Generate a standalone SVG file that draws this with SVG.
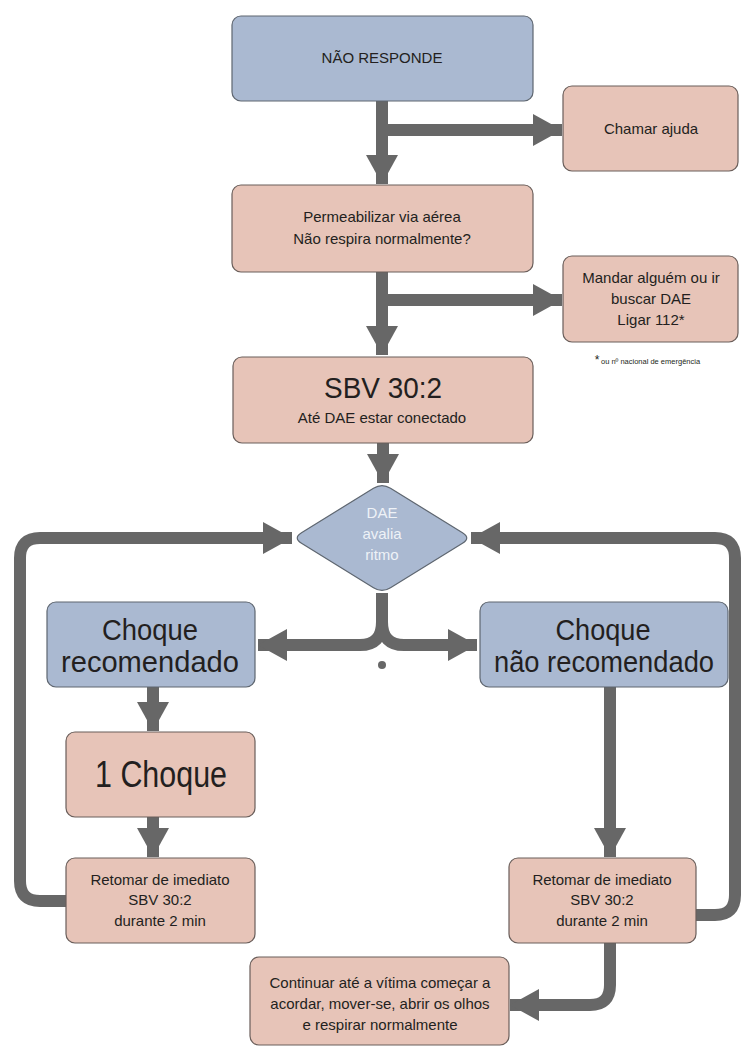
<svg xmlns="http://www.w3.org/2000/svg" width="741" height="1048" viewBox="0 0 741 1048">
<style>
.blue{fill:#aab9d1;stroke:#5e6670;stroke-width:1.2}
.pink{fill:#e7c4b8;stroke:#6a5e5a;stroke-width:1.2}
.t{font-family:"Liberation Sans","Open Sans",sans-serif;fill:#231f20;text-anchor:middle}
.s{font-size:15px}
.big{font-size:30px}
.conn{fill:none;stroke:#676767;stroke-width:12}
</style>
<defs>
<marker id="ah" markerUnits="userSpaceOnUse" viewBox="0 0 29 32" markerWidth="29" markerHeight="32" refX="29" refY="16" orient="auto">
<path d="M0,0 L29,16 L0,32 Z" fill="#676767"/>
</marker>
</defs>
<rect width="741" height="1048" fill="#ffffff"/>
<g id="connectors">
<path class="conn" d="M382,101 V184" marker-end="url(#ah)"/>
<path class="conn" d="M382,130 H562" marker-end="url(#ah)"/>
<path class="conn" d="M382,272 V355" marker-end="url(#ah)"/>
<path class="conn" d="M382,300 H562" marker-end="url(#ah)"/>
<path class="conn" d="M383,443 V483" marker-end="url(#ah)"/>
<path class="conn" d="M382,593 V622 Q382,645 360,645 H258" marker-end="url(#ah)"/>
<path class="conn" d="M382,622 Q382,645 404,645 H477" marker-end="url(#ah)"/>
<path class="conn" d="M153,687 V731" marker-end="url(#ah)"/>
<path class="conn" d="M153,817 V857" marker-end="url(#ah)"/>
<path class="conn" d="M610,687 V857" marker-end="url(#ah)"/>
<path class="conn" d="M66,901 H40 Q20,901 20,881 V558 Q20,538 40,538 H292" marker-end="url(#ah)"/>
<path class="conn" d="M696,915 H715 Q735,915 735,895 V558 Q735,538 715,538 H471" marker-end="url(#ah)"/>
<path class="conn" d="M610,943 V985 Q610,1005 590,1005 H510" marker-end="url(#ah)"/>
<circle cx="382" cy="665" r="4" fill="#676767"/>
</g>
<g id="nao-responde">
<rect class="blue" x="232" y="16" width="301" height="85" rx="9"/>
<text class="t s" x="382" y="63">NÃO RESPONDE</text>
</g>
<g id="chamar-ajuda">
<rect class="pink" x="563" y="86" width="175" height="85" rx="9"/>
<text class="t s" x="651" y="134">Chamar ajuda</text>
</g>
<g id="permeabilizar">
<rect class="pink" x="232" y="185" width="301" height="87" rx="9"/>
<text class="t s" x="382" y="222">Permeabilizar via aérea</text>
<text class="t s" x="382" y="244">Não respira normalmente?</text>
</g>
<g id="mandar">
<rect class="pink" x="563" y="256" width="175" height="86" rx="9"/>
<text class="t s" x="651" y="283">Mandar alguém ou ir</text>
<text class="t s" x="651" y="304">buscar DAE</text>
<text class="t s" x="651" y="325">Ligar 112*</text>
</g>
<g id="footnote">
<text x="597" y="364" font-family="Liberation Sans, sans-serif" font-size="12" fill="#231f20" text-anchor="middle">*</text>
<text x="601" y="364" font-family="Liberation Sans, sans-serif" font-size="7.5" fill="#231f20">ou nº nacional de emergência</text>
</g>
<g id="sbv">
<rect class="pink" x="233" y="357" width="300" height="86" rx="9"/>
<text class="t big" x="383" y="398" textLength="118" lengthAdjust="spacingAndGlyphs">SBV 30:2</text>
<text class="t s" x="382" y="423">Até DAE estar conectado</text>
</g>
<g id="dae-avalia">
<path class="blue" d="M373.5,488.3 Q382,483 390.5,488.3 L462.5,532.7 Q471,538 462.5,543.3 L390.5,587.7 Q382,593 373.5,587.7 L301.5,543.3 Q293,538 301.5,532.7 Z"/>
<text class="t s" x="382" y="518" style="fill:#eef2f7">DAE</text>
<text class="t s" x="382" y="539" style="fill:#eef2f7">avalia</text>
<text class="t s" x="382" y="560" style="fill:#eef2f7">ritmo</text>
</g>
<g id="choque-recomendado">
<rect class="blue" x="47" y="602" width="208" height="85" rx="9"/>
<text class="t big" x="150" y="640" textLength="96" lengthAdjust="spacingAndGlyphs">Choque</text>
<text class="t big" x="150" y="672" textLength="178" lengthAdjust="spacingAndGlyphs">recomendado</text>
</g>
<g id="choque-nao-recomendado">
<rect class="blue" x="480" y="602" width="248" height="85" rx="9"/>
<text class="t big" x="603" y="640" textLength="95" lengthAdjust="spacingAndGlyphs">Choque</text>
<text class="t big" x="604" y="672" textLength="220" lengthAdjust="spacingAndGlyphs">não recomendado</text>
</g>
<g id="um-choque">
<rect class="pink" x="66" y="732" width="189" height="85" rx="9"/>
<text class="t" x="161" y="787" font-size="37" textLength="132" lengthAdjust="spacingAndGlyphs">1 Choque</text>
</g>
<g id="retomar-esq">
<rect class="pink" x="66" y="858" width="189" height="85" rx="9"/>
<text class="t s" x="160" y="885">Retomar de imediato</text>
<text class="t s" x="160" y="905">SBV 30:2</text>
<text class="t s" x="160" y="926">durante 2 min</text>
</g>
<g id="retomar-dir">
<rect class="pink" x="509" y="858" width="187" height="85" rx="9"/>
<text class="t s" x="602" y="885">Retomar de imediato</text>
<text class="t s" x="602" y="905">SBV 30:2</text>
<text class="t s" x="602" y="926">durante 2 min</text>
</g>
<g id="continuar">
<rect class="pink" x="250" y="957" width="259" height="88" rx="9"/>
<text class="t s" x="380" y="988">Continuar até a vítima começar a</text>
<text class="t s" x="380" y="1009">acordar, mover-se, abrir os olhos</text>
<text class="t s" x="380" y="1030">e respirar normalmente</text>
</g>
</svg>
